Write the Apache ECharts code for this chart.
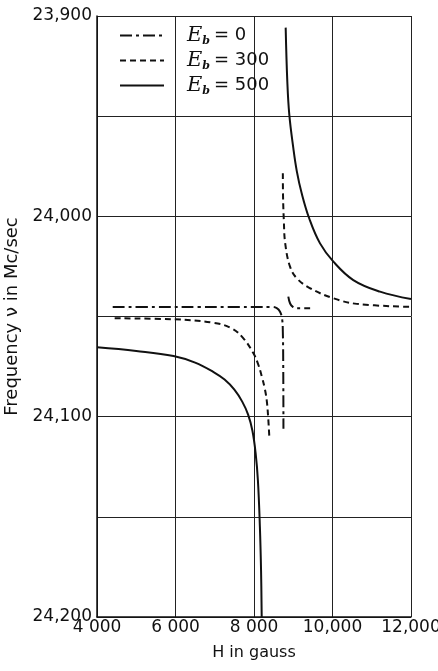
<!DOCTYPE html>
<html>
<head>
<meta charset="utf-8">
<script src="https://cdn.jsdelivr.net/npm/echarts@6/dist/echarts.min.js"></script>
<style>
  html,body{margin:0;padding:0;background:#fff}
  #chart{width:438px;height:671px}
</style>
</head>
<body>
<div id="chart"></div>
<script>
// tick labels
var xTicks = [4000, 6000, 8000, 10000, 12000]
var xTickLabels = ['4 000', '6 000', '8 000', '10,000', '12,000']
var yTicks = [23900, 24000, 24100, 24200]
var yTickLabels = ['23,900', '24,000', '24,100', '24,200']

// E_b = 0  (dash-dot)
var h0Low = [4400, 5500, 6600, 7600, 8450, 8580, 8660, 8715, 8735, 8745, 8750]
var f0Low = [24045.2, 24045.2, 24045.2, 24045.2, 24045.2, 24045.8, 24047.5, 24051, 24058, 24075, 24106]
var h0Up = [8874, 8920, 8990, 9090, 9430]
var f0Up = [24040.1, 24043.5, 24045.2, 24045.9, 24045.9]

// E_b = 300 (dashed)
var h300Low = [4450, 5950, 6960, 7430, 7730, 7985, 8100, 8200, 8280, 8325, 8360, 8392]
var f300Low = [24050.9, 24051.4, 24053.1, 24055.9, 24060.9, 24068.4, 24073.5, 24080, 24086.5, 24092, 24100, 24110.8]
var h300Up = [8735, 8740, 8760, 8795, 8918, 9090, 9430, 10020, 10620, 12000]
var f300Up = [23978.5, 23990, 24002, 24013.5, 24025.1, 24030.9, 24035.9, 24040.9, 24043.7, 24045.2]

// E_b = 500 (solid)
var h500Low = [4000, 5000, 5950, 6500, 6960, 7250, 7500, 7700, 7850, 7960, 8040, 8100, 8150, 8180, 8196]
var f500Low = [24065.4, 24067.2, 24069.7, 24073, 24077.6, 24081.5, 24086.5, 24092.5, 24099, 24107, 24118, 24132, 24155, 24177, 24200]
var h500Up = [8807, 8849, 8900, 9002, 9090, 9215, 9410, 9682, 10022, 10530, 11210, 12000]
var f500Up = [23905.8, 23932.8, 23949.4, 23966, 23977.4, 23988.5, 24001.2, 24013.5, 24022.6, 24031.8, 24037.6, 24041.3]

function pairs(xs, ys){
  return xs.map(function(x, i){ return [x, ys[i]] })
}

var dashDot = [12, 4, 3, 4]
var dashed = [6, 4]

function curve(name, xs, ys, type){
  return {
    name: name,
    type: 'line',
    data: pairs(xs, ys),
    symbol: 'none',
    smooth: 0.4,
    lineStyle: {color: '#111', width: 2, type: type},
    itemStyle: {color: '#111'},
    z: 3
  }
}

var chart = echarts.init(document.getElementById('chart'))

var font = 'DejaVu Sans'

chart.setOption({
  backgroundColor: '#fff',
  animation: false,
  grid: {left: 97, right: 27, top: 16, bottom: 54, containLabel: false, outerBoundsMode: 'none'},
  legend: {
    orient: 'vertical',
    left: 114,
    top: 20,
    itemWidth: 44,
    itemHeight: 14,
    itemGap: 3,
    itemStyle: {opacity: 0},
    data: ['E0', 'E300', 'E500'],
    formatter: function(name){
      return '{e|E}{s|b}{t|= ' + name.slice(1) + '}'
    },
    textStyle: {
      padding: [0, 0, 0, 18],
      rich: {
        e: {fontFamily: 'DejaVu Serif', fontStyle: 'italic', fontSize: 21, color: '#111'},
        s: {fontFamily: 'DejaVu Serif', fontStyle: 'italic', fontWeight: 'bold', fontSize: 11, color: '#111', padding: [12, 4, 0, 0]},
        t: {fontFamily: font, fontSize: 18, color: '#111'}
      }
    }
  },
  xAxis: {
    type: 'value',
    min: 4000,
    max: 12000,
    interval: 2000,
    name: 'H in gauss',
    nameLocation: 'middle',
    nameGap: 28,
    nameTextStyle: {fontFamily: font, fontSize: 16, color: '#111'},
    axisLine: {lineStyle: {color: '#111', width: 1.5}},
    axisTick: {show: false},
    axisLabel: {
      margin: 2,
      fontFamily: font, fontSize: 17, color: '#111',
      formatter: function(v){
        var i = xTicks.indexOf(v)
        return i >= 0 ? xTickLabels[i] : ''
      }
    },
    splitLine: {show: true, lineStyle: {color: '#222', width: 1}}
  },
  yAxis: {
    type: 'value',
    inverse: true,
    min: 23900,
    max: 24200,
    interval: 50,
    name: 'Frequency \u03bd in Mc/sec',
    nameLocation: 'middle',
    nameGap: 72,
    nameTextStyle: {fontFamily: font, fontSize: 18, color: '#111'},
    axisLine: {show: true, lineStyle: {color: '#111', width: 1.5}},
    axisTick: {show: false},
    axisLabel: {
      margin: 5,
      fontFamily: font, fontSize: 17, color: '#111',
      formatter: function(v){
        var i = yTicks.indexOf(v)
        return i >= 0 ? yTickLabels[i] : ''
      }
    },
    splitLine: {show: true, lineStyle: {color: '#222', width: 1}}
  },
  series: [
    curve('E0', h0Low, f0Low, dashDot),
    curve('E0', h0Up, f0Up, dashDot),
    curve('E300', h300Low, f300Low, dashed),
    curve('E300', h300Up, f300Up, dashed),
    curve('E500', h500Low, f500Low, 'solid'),
    curve('E500', h500Up, f500Up, 'solid')
  ]
})
</script>
</body>
</html>
